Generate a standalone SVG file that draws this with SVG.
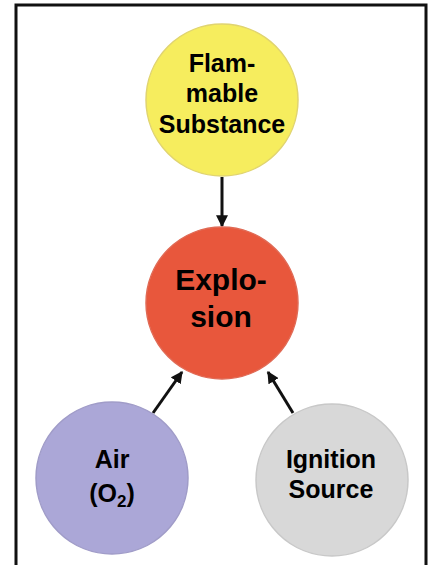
<svg xmlns="http://www.w3.org/2000/svg" width="429" height="565" viewBox="0 0 429 565">
<style>
text{font-family:"Liberation Sans",Arial,sans-serif;font-weight:bold;fill:#000;text-anchor:middle}
.t{font-size:25px}
.big{font-size:30px}
.c{stroke-width:1.5}
.conn{stroke:#111;stroke-width:3;fill:none;marker-end:url(#ah)}
</style>
<defs>
<marker id="ah" viewBox="0 0 10 10" refX="9" refY="5" markerWidth="4" markerHeight="4" orient="auto" markerUnits="strokeWidth">
<path d="M0,0 L10,5 L0,10 z" fill="#111"/>
</marker>
</defs>
<rect x="0" y="0" width="429" height="565" fill="#fff"/>
<rect x="16" y="5" width="410" height="580" fill="#fff" stroke="#111" stroke-width="3"/>
<g id="connectors">
<line class="conn" x1="222" y1="177" x2="222" y2="226"/>
<line class="conn" x1="153" y1="413" x2="182" y2="372"/>
<line class="conn" x1="293" y1="413" x2="268" y2="372"/>
</g>
<g id="flammable">
<circle class="c" cx="222" cy="100" r="76" fill="#f6ed5e" stroke="#e0d470"/>
<text class="t" x="222" y="72">Flam-</text>
<text class="t" x="222" y="102">mable</text>
<text class="t" x="222" y="133">Substance</text>
</g>
<g id="explosion">
<circle class="c" cx="222" cy="303" r="76" fill="#e8573c" stroke="#e06a55"/>
<text class="big" x="221" y="290">Explo-</text>
<text class="big" x="221" y="327">sion</text>
</g>
<g id="air">
<circle class="c" cx="112" cy="478" r="76" fill="#aba7d7" stroke="#a09cc8"/>
<text class="t" x="112" y="468">Air</text>
<text class="t" x="112" y="502">(O<tspan font-size="17" dy="5">2</tspan><tspan dy="-5">)</tspan></text>
</g>
<g id="ignition">
<circle class="c" cx="332" cy="480" r="76" fill="#d8d8d8" stroke="#c8c8c8"/>
<text class="t" x="331" y="468">Ignition</text>
<text class="t" x="331" y="498">Source</text>
</g>
</svg>
